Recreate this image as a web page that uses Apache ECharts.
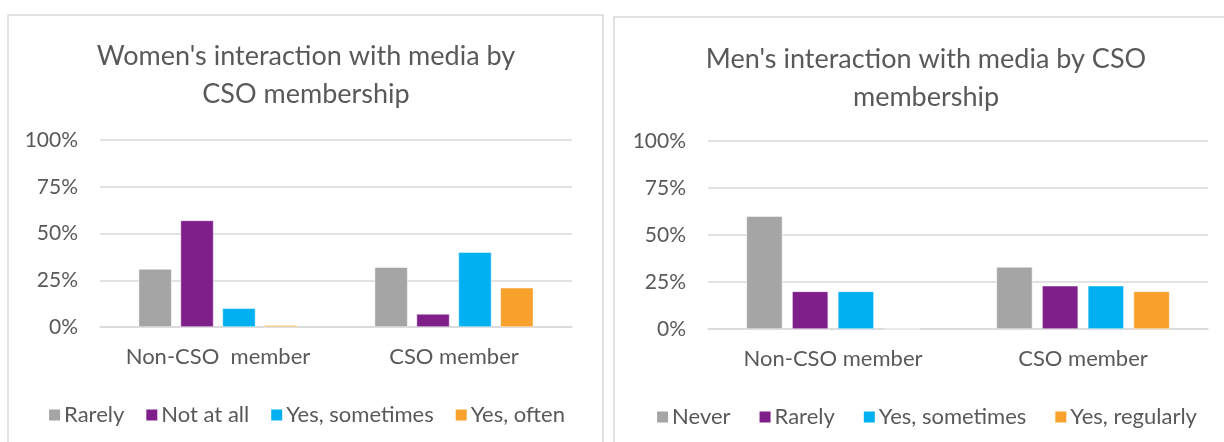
<!DOCTYPE html>
<html>
<head>
<meta charset="utf-8">
<script src="https://cdn.jsdelivr.net/npm/echarts@6/dist/echarts.min.js"></script>
<style>
html, body { margin:0; padding:0; background:#fff; overflow:hidden; width:1224px; height:442px; }
#women { position:absolute; left:0; top:0; width:612px; height:442px; }
#men { position:absolute; left:612px; top:0; width:628px; height:442px; }
</style>
</head>
<body>
<div id="women"></div>
<div id="men"></div>
<script>
// data (percent)
var womenCategories = ['Non-CSO  member', 'CSO member'];
var menCategories = ['Non-CSO member', 'CSO member'];
var yTicks = [0, 25, 50, 75, 100];

var womenNames = ['Rarely', 'Not at all', 'Yes, sometimes', 'Yes, often'];
var womenRarely = [31, 32];
var womenNotAtAll = [57, 7];
var womenSometimes = [10, 40];
var womenOften = [1, 21];

var menNames = ['Never', 'Rarely', 'Yes, sometimes', 'Yes, regularly'];
var menNever = [60, 33];
var menRarely = [20, 23];
var menSometimes = [20, 23];
var menRegularly = [0, 20];

var colors = ['#a5a5a5', '#7f1f8a', '#00b0f0', '#f9a12d'];
var FONT = 'Lato';
var TXT = '#595959';

function barSeries(name, data, color, width) {
  return {
    name: name,
    type: 'bar',
    barWidth: width,
    barGap: '27%',
    itemStyle: { color: color, borderColor: '#fff', borderWidth: 0.5 },
    data: data
  };
}

function makeOption(o) {
  return {
    animation: false,
    textStyle: { fontFamily: FONT },
    title: {
      text: o.title,
      left: 'center',
      top: o.titleTop,
      textStyle: { fontFamily: FONT, fontSize: 27, fontWeight: 'normal', color: TXT, lineHeight: 38 }
    },
    graphic: [{
      type: 'rect',
      shape: o.frame,
      style: { fill: 'none', stroke: '#d9d9d9', lineWidth: 1.5 },
      silent: true
    }],
    legend: {
      data: o.names,
      left: 'center',
      top: o.legendTop,
      icon: 'rect',
      itemWidth: 13,
      itemHeight: 13,
      itemGap: o.legendGap,
      textStyle: { fontFamily: FONT, fontSize: 22, color: TXT, padding: [0, 0, 0, -2] }
    },
    grid: o.grid,
    xAxis: {
      type: 'category',
      data: o.categories,
      axisLine: { show: true, lineStyle: { color: '#d9d9d9', width: 1.5 } },
      axisTick: { show: false },
      axisLabel: { interval: 0, fontFamily: FONT, fontSize: 22, color: TXT, margin: 19 }
    },
    yAxis: {
      type: 'value',
      min: yTicks[0],
      max: yTicks[yTicks.length - 1],
      interval: yTicks[1] - yTicks[0],
      axisLine: { show: false },
      axisTick: { show: false },
      splitLine: { lineStyle: { color: '#d9d9d9', width: 1.5 } },
      axisLabel: { fontFamily: FONT, fontSize: 21, color: TXT, margin: 22, formatter: '{value}%' }
    },
    series: o.series
  };
}

// women
(function () {
  var myChart = echarts.init(document.getElementById('women'));
  var option = makeOption({
    title: "Women's interaction with media by\nCSO membership",
    titleTop: 32,
    frame: { x: 8, y: 15, width: 595, height: 460 },
    names: womenNames,
    legendTop: 399,
    legendGap: 20,
    grid: { left: 100, right: 40, top: 140, bottom: 115 },
    categories: womenCategories,
    series: [
      barSeries(womenNames[0], womenRarely, colors[0], 33),
      barSeries(womenNames[1], womenNotAtAll, colors[1], 33),
      barSeries(womenNames[2], womenSometimes, colors[2], 33),
      barSeries(womenNames[3], womenOften, colors[3], 33)
    ]
  });
  myChart.setOption(option, true);
})();

// men
(function () {
  var myChart = echarts.init(document.getElementById('men'));
  var option = makeOption({
    title: "Men's interaction with media by CSO\nmembership",
    titleTop: 35,
    frame: { x: 2, y: 17, width: 700, height: 460 },
    names: menNames,
    legendTop: 401,
    legendGap: 27,
    grid: { left: 96, right: 32, top: 141, bottom: 113 },
    categories: menCategories,
    series: [
      barSeries(menNames[0], menNever, colors[0], 36),
      barSeries(menNames[1], menRarely, colors[1], 36),
      barSeries(menNames[2], menSometimes, colors[2], 36),
      barSeries(menNames[3], menRegularly, colors[3], 36)
    ]
  });
  myChart.setOption(option, true);
})();
</script>
</body>
</html>
